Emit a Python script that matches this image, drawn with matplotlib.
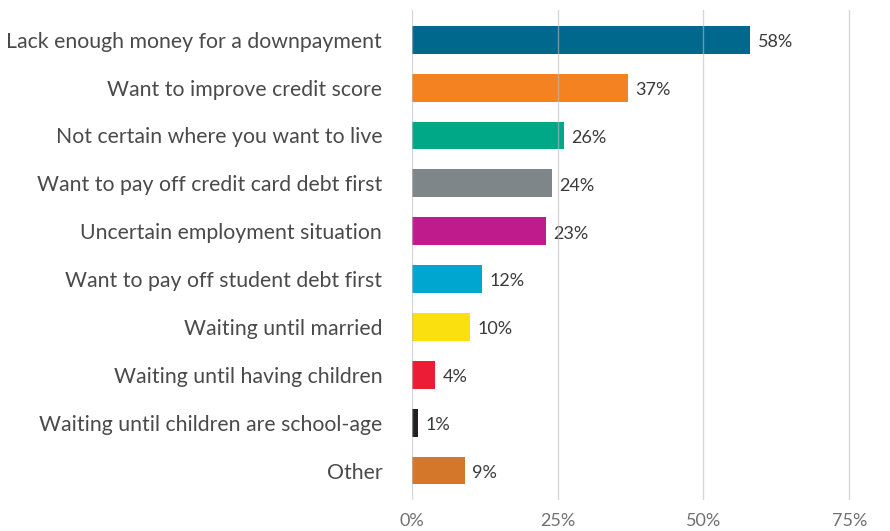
import matplotlib.pyplot as plt

reasons = ['Lack enough money for a downpayment', 'Want to improve credit score',
           'Not certain where you want to live', 'Want to pay off credit card debt first',
           'Uncertain employment situation', 'Want to pay off student debt first',
           'Waiting until married', 'Waiting until having children',
           'Waiting until children are school-age', 'Other']
shares = [58, 37, 26, 24, 23, 12, 10, 4, 1, 9]
colors = ['#00688C', '#F58220', '#00A887', '#7F8689', '#BF1B8C',
          '#00A6CF', '#FBE00F', '#ED1C36', '#231F20', '#D5772A']
ticks = [0, 25, 50, 75]

plt.rcParams['font.family'] = ['Lato', 'DejaVu Sans']

fig = plt.figure(figsize=(8.9, 5.31), dpi=100)
ax = fig.add_axes([0.463, 0.058, 0.537, 0.923])

y = range(len(reasons))
ax.barh(y, shares, height=0.58, color=colors, zorder=2)
for i, v in enumerate(shares):
    ax.text(v + 1.3, i + 0.05, f'{v}%', va='center', ha='left', fontsize=13,
            color='#3a3a3a')

ax.set_xlim(0, 82)
ax.set_ylim(9.62, -0.62)
ax.set_xticks(ticks)
ax.set_xticklabels([f'{t}%' for t in ticks], fontsize=13, color='#707070')
ax.set_yticks(list(y))
ax.set_yticklabels(reasons, fontsize=15.3, color='#4a4a4a')
ax.tick_params(axis='both', length=0)
ax.tick_params(axis='y', pad=21.5)
ax.tick_params(axis='x', pad=9)
for t in ticks:
    ax.axvline(t, color='#BBBBBB', lw=1, alpha=0.6, zorder=3)
for s in ax.spines.values():
    s.set_visible(False)

fig.savefig('out.png', dpi=100)
